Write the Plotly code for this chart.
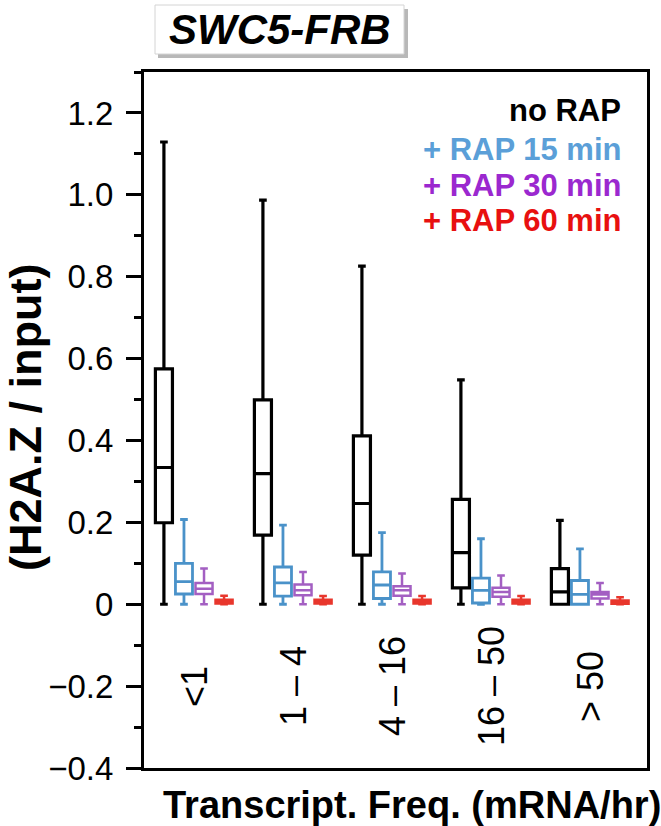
import plotly.graph_objects as go

# ---- data ----
categories = ["<1", "1 – 4", "4 – 16", "16 – 50", "> 50"]
series_names = ["no RAP", "+ RAP 15 min", "+ RAP 30 min", "+ RAP 60 min"]

q1 = {
    "no RAP":       [0.199, 0.169, 0.120, 0.040, 0.000],
    "+ RAP 15 min": [0.025, 0.020, 0.014, 0.003, 0.000],
    "+ RAP 30 min": [0.025, 0.022, 0.021, 0.018, 0.014],
    "+ RAP 60 min": [0.002, 0.002, 0.002, 0.002, 0.001],
}
median = {
    "no RAP":       [0.334, 0.319, 0.246, 0.126, 0.030],
    "+ RAP 15 min": [0.055, 0.052, 0.047, 0.034, 0.024],
    "+ RAP 30 min": [0.038, 0.034, 0.034, 0.030, 0.024],
    "+ RAP 60 min": [0.006, 0.006, 0.006, 0.006, 0.005],
}
q3 = {
    "no RAP":       [0.575, 0.499, 0.411, 0.256, 0.087],
    "+ RAP 15 min": [0.100, 0.091, 0.079, 0.064, 0.058],
    "+ RAP 30 min": [0.052, 0.048, 0.044, 0.040, 0.030],
    "+ RAP 60 min": [0.011, 0.011, 0.011, 0.011, 0.009],
}
lowerfence = {
    "no RAP":       [0.0, 0.0, 0.0, 0.0, 0.0],
    "+ RAP 15 min": [0.0, 0.0, 0.0, 0.0, 0.0],
    "+ RAP 30 min": [0.0, 0.0, 0.0, 0.0, 0.0],
    "+ RAP 60 min": [0.0, 0.0, 0.0, 0.0, 0.0],
}
upperfence = {
    "no RAP":       [1.129, 0.987, 0.826, 0.548, 0.205],
    "+ RAP 15 min": [0.207, 0.193, 0.175, 0.160, 0.135],
    "+ RAP 30 min": [0.087, 0.079, 0.075, 0.070, 0.052],
    "+ RAP 60 min": [0.021, 0.020, 0.020, 0.020, 0.017],
}

box_colors = {"no RAP": "#000000", "+ RAP 15 min": "#4a92c9",
              "+ RAP 30 min": "#a35fc2", "+ RAP 60 min": "#e8362c"}
text_colors = {"no RAP": "#000000", "+ RAP 15 min": "#5b9fd8",
               "+ RAP 30 min": "#9b28cf", "+ RAP 60 min": "#e81010"}
line_widths = {"no RAP": 3.2, "+ RAP 15 min": 2.8, "+ RAP 30 min": 2.5, "+ RAP 60 min": 2.5}
fill_colors = {"no RAP": "rgba(0,0,0,0)", "+ RAP 15 min": "rgba(0,0,0,0)",
               "+ RAP 30 min": "rgba(0,0,0,0)", "+ RAP 60 min": "#e8362c"}

ytickvals = [-0.4, -0.2, 0, 0.2, 0.4, 0.6, 0.8, 1.0, 1.2]
yticktext = ["\u22120.4", "\u22120.2", "0", "0.2", "0.4", "0.6", "0.8", "1.0", "1.2"]
yminor = [-0.3, -0.1, 0.1, 0.3, 0.5, 0.7, 0.9, 1.1, 1.3]

FONT = "Liberation Sans, Arial, sans-serif"

fig = go.Figure()
for name in series_names:
    fig.add_trace(go.Box(
        name=name,
        x=categories,
        q1=q1[name], median=median[name], q3=q3[name],
        lowerfence=lowerfence[name], upperfence=upperfence[name],
        boxpoints=False,
        line=dict(color=box_colors[name], width=line_widths[name]),
        fillcolor=fill_colors[name],
        whiskerwidth=0.45,
        showlegend=False,
    ))

# plot area in pixels: x 144..647, y 72..768
L, R, T, B = 144, 14, 72, 58
W, H = 661, 826
pw, ph = W - L - R, H - T - B


def px(x):
    return (x - L) / pw


def py(y):
    return (H - B - y) / ph


annotations = []
# category labels inside plot, rotated
for c in categories:
    annotations.append(dict(x=c, y=-0.2, xref="x", yref="y", text=c, textangle=-90,
                            showarrow=False, font=dict(family=FONT, size=36, color="black"),
                            xanchor="center", yanchor="middle"))
# legend text
legend_y = [110, 149, 185, 221]
for name, yy in zip(series_names, legend_y):
    annotations.append(dict(x=px(623), y=py(yy), xref="paper", yref="paper",
                            text="<b>%s</b>" % name, showarrow=False,
                            xanchor="right", yanchor="middle",
                            font=dict(family=FONT, size=31, color=text_colors[name])))
# axis titles
annotations.append(dict(x=px(161), y=py(805), xref="paper", yref="paper",
                        text="<b>Transcript. Freq. (mRNA/hr)</b>", showarrow=False,
                        xanchor="left", yanchor="middle",
                        font=dict(family=FONT, size=38, color="black")))
annotations.append(dict(x=px(25), y=py(418), xref="paper", yref="paper",
                        text="<b>(H2A.Z / input)</b>", showarrow=False, textangle=-90,
                        xanchor="center", yanchor="middle",
                        font=dict(family=FONT, size=45, color="black")))
# title text
annotations.append(dict(x=px(280), y=py(29), xref="paper", yref="paper",
                        text="<b><i>SWC5-FRB</i></b>", showarrow=False,
                        xanchor="center", yanchor="middle",
                        font=dict(family=FONT, size=42, color="black")))

shapes = [
    dict(type="rect", xref="paper", yref="paper", x0=px(158), x1=px(408), y0=py(9), y1=py(58),
         fillcolor="#b8b8b8", line=dict(width=0), layer="above"),
    dict(type="rect", xref="paper", yref="paper", x0=px(155), x1=px(404), y0=py(5), y1=py(54),
         fillcolor="white", line=dict(color="#d4d4d4", width=1), layer="above"),
]

fig.update_layout(
    width=W, height=H,
    margin=dict(l=L, r=R, t=T, b=B, pad=0),
    paper_bgcolor="white", plot_bgcolor="white",
    boxmode="group", boxgap=0.19, boxgroupgap=0.15,
    showlegend=False,
    annotations=annotations,
    shapes=shapes,
    font=dict(family=FONT, color="black"),
    xaxis=dict(
        type="category", range=[-0.505, 4.576],
        showticklabels=False, ticks="", showgrid=False, zeroline=False,
        showline=True, linecolor="black", linewidth=3, mirror=True,
    ),
    yaxis=dict(
        range=[-0.4, 1.3], tickmode="array", tickvals=ytickvals, ticktext=yticktext,
        ticks="outside", ticklen=15, tickwidth=3, tickcolor="black",
        ticklabelstandoff=6,
        minor=dict(tickmode="array", tickvals=yminor, ticks="outside", ticklen=7,
                   tickwidth=3, tickcolor="black", showgrid=False),
        tickfont=dict(family=FONT, size=33, color="black"),
        showgrid=False, zeroline=False,
        showline=True, linecolor="black", linewidth=3, mirror=True,
    ),
)

fig.write_html("out.html", config={"displayModeBar": False},
               post_script="document.body.style.margin='0';document.body.style.overflow='hidden';")
